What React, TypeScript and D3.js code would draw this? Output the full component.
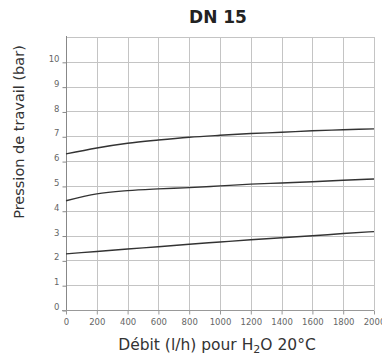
import React, { useEffect, useRef } from 'react';
import * as d3 from 'd3';

const flow = [0, 200, 400, 600, 800, 1000, 1200, 1400, 1600, 1800, 2000];
const upperCurve = [6.29, 6.53, 6.72, 6.85, 6.96, 7.04, 7.11, 7.16, 7.22, 7.26, 7.3];
const middleCurve = [4.4, 4.68, 4.81, 4.88, 4.93, 5.0, 5.07, 5.12, 5.17, 5.23, 5.28];
const lowerCurve = [2.26, 2.36, 2.46, 2.55, 2.65, 2.74, 2.83, 2.91, 2.99, 3.08, 3.16];
const yTicks = [0, 1, 2, 3, 4, 5, 6, 7, 8, 9, 10];

const App: React.FC = () => {
  const svgRef = useRef<SVGSVGElement>(null);

  useEffect(() => {
    if (!svgRef.current) return;
    d3.select(svgRef.current).selectAll('*').remove();

    const width = 382;
    const height = 355;
    const font = 'DejaVu Sans, Verdana, sans-serif';

    const svg = d3.select(svgRef.current).attr('width', width).attr('height', height);

    const x = d3.scaleLinear().domain([0, 2000]).range([66, 374]);
    const y = d3.scaleLinear().domain([0, 11]).range([310, 37]);

    // grid
    const grid = svg.append('g').attr('stroke', '#c4c4c4').attr('stroke-width', 1);
    grid
      .selectAll('line.v')
      .data(flow.slice(1))
      .join('line')
      .attr('class', 'v')
      .attr('x1', d => Math.round(x(d)) + 0.5)
      .attr('x2', d => Math.round(x(d)) + 0.5)
      .attr('y1', y(11))
      .attr('y2', y(0));
    grid
      .selectAll('line.h')
      .data(d3.range(1, 12))
      .join('line')
      .attr('class', 'h')
      .attr('x1', x(0))
      .attr('x2', x(2000) + 0.5)
      .attr('y1', d => Math.round(y(d)) + 0.5)
      .attr('y2', d => Math.round(y(d)) + 0.5);

    // y axis
    const yAxis = svg
      .append('g')
      .attr('transform', `translate(${Math.round(x(0)) + 0.5},0)`)
      .call(d3.axisLeft(y).tickValues(yTicks).tickSize(4).tickSizeOuter(0).tickFormat(d3.format('d')));
    yAxis.select('.domain').attr('stroke', '#888').attr('d', `M0,${y(11) - 1}V${y(0) + 4}`);
    yAxis.selectAll('.tick line').attr('stroke', '#888');
    yAxis.selectAll('.tick line').attr('transform', 'translate(0,0.5)');
    yAxis
      .selectAll('.tick text')
      .attr('fill', '#666')
      .attr('font-family', font)
      .attr('font-size', 8.5)
      .attr('x', -7)
      .attr('dy', '-0.05em');

    // x axis
    const xAxis = svg
      .append('g')
      .attr('transform', `translate(0,${Math.round(y(0)) + 0.5})`)
      .call(d3.axisBottom(x).tickValues(flow).tickSize(4).tickSizeOuter(0).tickFormat(d3.format('d')));
    xAxis.select('.domain').attr('stroke', '#999').attr('d', `M${x(0) - 4},0H${x(2000)}`);
    xAxis.selectAll('.tick line').attr('stroke', '#999');
    xAxis
      .selectAll('.tick text')
      .attr('fill', '#666')
      .attr('font-family', font)
      .attr('font-size', 8.5)
      .attr('y', 8);

    // curves
    const line = d3
      .line<number>()
      .x((_, i) => x(flow[i]))
      .y(d => y(d))
      .curve(d3.curveMonotoneX);

    [upperCurve, middleCurve, lowerCurve].forEach(series => {
      svg
        .append('path')
        .datum(series)
        .attr('fill', 'none')
        .attr('stroke', '#333')
        .attr('stroke-width', 1.4)
        .attr('d', line);
    });

    // title
    svg
      .append('text')
      .attr('x', 218)
      .attr('y', 23)
      .attr('text-anchor', 'middle')
      .attr('font-family', font)
      .attr('font-weight', 'bold')
      .attr('font-size', 17)
      .attr('fill', '#222')
      .text('DN 15');

    // x label
    const xl = svg
      .append('text')
      .attr('x', 217)
      .attr('y', 350)
      .attr('text-anchor', 'middle')
      .attr('font-family', font)
      .attr('font-size', 15.5)
      .attr('fill', '#333');
    xl.append('tspan').text('Débit (l/h) pour H');
    xl.append('tspan').attr('font-size', 11).attr('dy', 3).text('2');
    xl.append('tspan').attr('dy', -3).text('O 20°C');

    // y label
    svg
      .append('text')
      .attr('transform', 'translate(24,132) rotate(-90)')
      .attr('text-anchor', 'middle')
      .attr('font-family', font)
      .attr('font-size', 14.5)
      .attr('fill', '#333')
      .text('Pression de travail (bar)');
  }, []);

  return (
    <svg ref={svgRef} style={{ position: 'absolute', left: 0, top: 0, background: '#fff' }}></svg>
  );
};

export default App;
